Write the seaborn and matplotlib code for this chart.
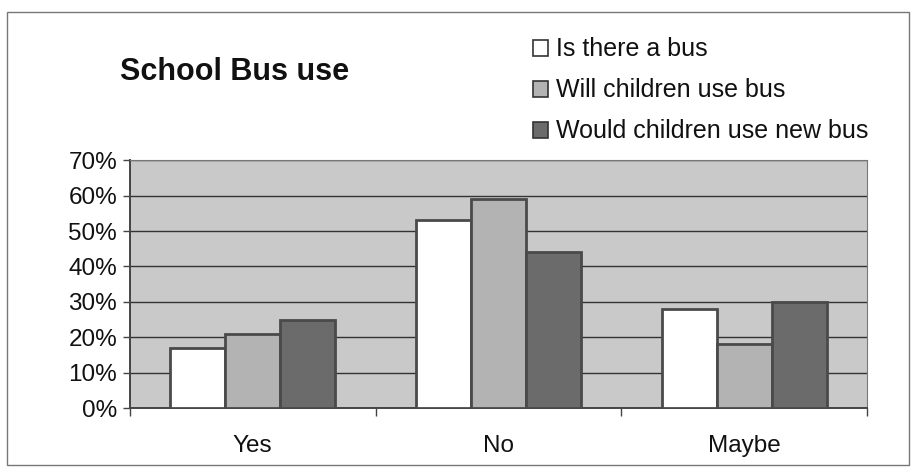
import seaborn as sns
import matplotlib.pyplot as plt
import pandas as pd
from matplotlib.ticker import PercentFormatter, FixedLocator
from matplotlib.patches import Rectangle

# data (fractions)
answers = ["Yes", "No", "Maybe"]
series = ["Is there a bus", "Will children use bus", "Would children use new bus"]
is_there_bus = [0.17, 0.53, 0.28]
will_use_bus = [0.21, 0.59, 0.18]
would_use_new_bus = [0.25, 0.44, 0.30]
colors = ["#ffffff", "#b3b3b3", "#6b6b6b"]

df = pd.DataFrame({
    "answer": answers * 3,
    "question": [series[0]] * 3 + [series[1]] * 3 + [series[2]] * 3,
    "share": is_there_bus + will_use_bus + would_use_new_bus,
})

sns.set_style("white")
plt.rcParams["font.family"] = ["Liberation Sans", "DejaVu Sans"]
plt.rcParams["text.color"] = "#111111"

fig = plt.figure(figsize=(9.13, 4.74), dpi=100)
ax = fig.add_axes([0.142, 0.139, 0.808, 0.523])

sns.barplot(data=df, x="answer", y="share", hue="question", order=answers,
            hue_order=series, palette=colors, width=0.67, saturation=1,
            edgecolor="#4a4a4a", linewidth=2.0, ax=ax, zorder=3)

ax.set_facecolor("#c9c9c9")
ax.set_ylim(0, 0.7)
ax.set_xlim(-0.5, 2.5)
ax.yaxis.set_major_formatter(PercentFormatter(1.0, decimals=0))
ax.set_yticks([i / 10 for i in range(8)])
ax.grid(axis="y", color="#333333", linewidth=1.0, zorder=0)
ax.set_axisbelow(True)
ax.set_xlabel("")
ax.set_ylabel("")

for side in ["top", "right"]:
    ax.spines[side].set_color("#777777")
    ax.spines[side].set_linewidth(0.8)
for side in ["left", "bottom"]:
    ax.spines[side].set_color("#444444")
    ax.spines[side].set_linewidth(1.4)

ax.tick_params(axis="y", direction="out", length=5, width=1, color="#444444",
               labelsize=17.5, labelcolor="#111111", left=True, pad=4)
ax.tick_params(axis="x", which="major", length=0, labelsize=17.5,
               labelcolor="#111111", pad=19)
ax.xaxis.set_minor_locator(FixedLocator([-0.5, 0.5, 1.5, 2.5]))
ax.tick_params(axis="x", which="minor", direction="out", length=6, width=1,
               color="#444444", bottom=True)

ax.legend_.remove()
handles = [Rectangle((0, 0), 1, 1, facecolor=c, edgecolor="#333333", linewidth=1.2)
           for c in colors]
fig.legend(handles, series, loc="upper left", bbox_to_anchor=(0.584, 0.921),
           frameon=False, fontsize=18, handlelength=0.6, handleheight=0.6,
           handletextpad=0.3, labelspacing=0.68, borderpad=0, borderaxespad=0)

fig.text(0.131, 0.848, "School Bus use", fontsize=22, fontweight="bold",
         va="center", ha="left")

# chart outer border
fig.patches.append(Rectangle((0.008, 0.02), 0.988, 0.955, transform=fig.transFigure,
                             fill=False, edgecolor="#777777", linewidth=1.0))

fig.savefig("out.png", dpi=100)
